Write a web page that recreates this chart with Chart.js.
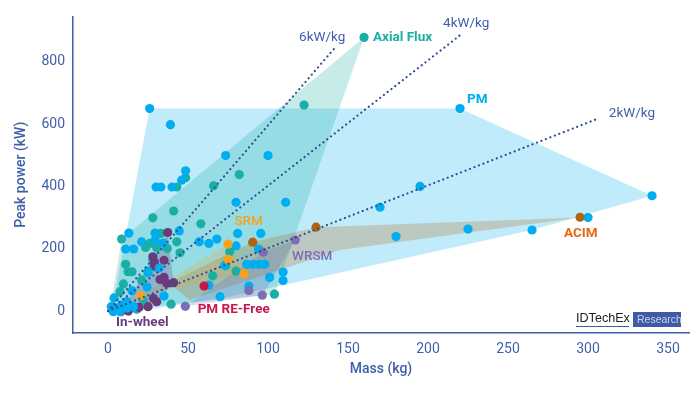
<!DOCTYPE html>
<html>
<head>
<meta charset="utf-8">
<style>
  html, body { margin: 0; padding: 0; background: #fff; }
  canvas { display: block; }
</style>
<script src="https://cdn.jsdelivr.net/npm/chart.js@4"></script>
</head>
<body>
<canvas id="chart" width="700" height="394"></canvas>
<script>
const xTicks = [0, 50, 100, 150, 200, 250, 300, 350];
const yTicks = [0, 200, 400, 600, 800];

const pmPoints = [[26,650],[39,598],[220,650],[340,370],[300,300],[265,260],[225,263],[180,239],[195,400],[170,333],
  [111,349],[100,499],[73.5,499],[48.5,450],[46,420],[40,398],[30,398],[33,398],[80,349],[81,249],[95.5,249],
  [44.5,257],[57,222],[63,217],[68,231],[80,209],[94,199],[86.7,150],[90.6,150],[94.4,150],[98,150],
  [101,108],[109.4,125],[109.4,98],[88,80],[70,46],[73,147],[63,83],[13,250],[11,199],[16,199],[21,222],[29.4,250],
  [29.4,228],[34.4,218],[25,123],[32,138],[24.4,77],[15,65],[3.75,42],[35,48],[2,14],[3.3,-2],[5.6,10],[8.5,19],
  [11.7,30],[7.5,-2],[12,10],[16,14],[25,128]];
const axialPoints = [[160,878],[122.5,661],[82,438],[66,402],[41,321],[58,280],[48.5,428],[43,398],[76,190],[73.5,145],
  [80,128],[65.4,113],[104,54],[28,299],[8.5,231],[33,249],[26,217],[23.5,204],[30.4,203],[37,201],[43,222],[45,187],
  [11,150],[15,126],[12.5,126],[28,163],[29.4,142],[9.6,87],[7.5,62],[21,99],[39.4,22],[22,35],[18,6]];
const inWheelPoints = [[37.3,252],[35,163],[29,145],[32.5,101],[35,108],[36.7,89],[41,91],[28.3,41],[30.4,30],[25,14],
  [19.4,12],[12.7,0],[8,-2],[29,157],[28,174]];
const srmPoints = [[20.4,49],[75,215],[75,166],[85,120]];
const acimPoints = [[295,301],[130,269],[90.4,221]];
const wrsmPoints = [[117,228],[97,189],[88,66],[96.4,51],[48.3,15]];
const reFreePoints = [[60,80]];

const pmHull = [[26,650],[220,650],[340,370],[265,260],[109.4,83],[70,40],[12,-5],[0,5],[2,14],[3.75,42]];
const axialHull = [[160,878],[104,54],[39,22],[18,6],[8,8],[3,58],[8.5,231]];
const acimHull = [[295,300],[130,269],[90,221],[38,90],[51,35],[145,196]];
const srmHull = [[20.4,49],[75,215],[85,120]];
const wrsmHull = [[117,228],[96.4,51],[48.3,15],[97,189]];
const inWheelHull = [[37.3,252],[41,91],[30.4,30],[12.7,0],[8,-2],[27,160]];

const rate6 = [[0,0],[142,846]];
const rate4 = [[0,0],[220,885]];
const rate2 = [[0,0],[307,619]];

const notes = [
  ["6kW/kg", 119.4, 876, "#3F5FA8", "400"],
  ["4kW/kg", 209.4, 923, "#3F5FA8", "400"],
  ["2kW/kg", 313, 635, "#3F5FA8", "400"],
  ["Axial Flux", 165.6, 878, "#1AAFA5", "700"],
  ["PM", 224.4, 679, "#00AEEF", "700"],
  ["SRM", 79, 288, "#F9A11B", "500"],
  ["ACIM", 285, 247, "#E8660F", "700"],
  ["WRSM", 115, 176, "#7C6DB5", "500"],
  ["PM RE-Free", 56, 6, "#C8174A", "700"],
  ["In-wheel", 5, -37.5, "#6B3A7D", "700"],
];

const toXY = (pairs) => pairs.map(([x, y]) => ({ x, y }));

const hull = (pairs, color) => ({
  data: toXY(pairs),
  showLine: true,
  fill: "shape",
  backgroundColor: color,
  borderWidth: 0,
  pointRadius: 0,
  order: 10,
});

const dots = (pairs, color, order) => ({
  data: toXY(pairs),
  backgroundColor: color,
  pointRadius: 4.6,
  borderWidth: 0,
  order: order,
});

const rate = (pairs) => ({
  data: toXY(pairs),
  showLine: true,
  borderColor: "#2E4C96",
  borderWidth: 2.2,
  borderDash: [0.1, 4.7],
  borderCapStyle: "round",
  pointRadius: 0,
  order: 0,
});

const chartText = {
  id: "chartText",
  afterDatasetsDraw(chart) {
    const { ctx, scales } = chart;
    ctx.save();
    ctx.textAlign = "left";
    ctx.textBaseline = "middle";
    notes.forEach(([text, x, y, color, weight]) => {
      ctx.font = `${weight} 13.5px Roboto, sans-serif`;
      ctx.fillStyle = color;
      ctx.fillText(text, scales.x.getPixelForValue(x), scales.y.getPixelForValue(y));
    });

    // logo bottom right
    ctx.font = "12.6px 'Liberation Sans', sans-serif";
    ctx.fillStyle = "#222";
    ctx.fillText("IDTechEx", 576, 319);
    ctx.fillStyle = "#3F5BA5";
    ctx.fillRect(576, 326, 53, 1);
    ctx.fillRect(633, 312, 48, 15);
    ctx.font = "10.5px 'Liberation Sans', sans-serif";
    ctx.fillStyle = "#C9D3E8";
    ctx.fillText("Research", 637, 320);
    ctx.restore();
  },
};

new Chart(document.getElementById("chart"), {
  type: "scatter",
  data: {
    datasets: [
      rate(rate6),
      rate(rate4),
      rate(rate2),
      dots(reFreePoints, "#C8174A", 1),
      dots(srmPoints, "#F9A11B", 2),
      dots(wrsmPoints, "#7C6DB5", 3),
      dots(acimPoints, "#AE6410", 4),
      dots(pmPoints, "#00AEEF", 5),
      dots(inWheelPoints, "#6B3A7D", 6),
      dots(axialPoints, "#1AAFA5", 7),
      hull(inWheelHull, "rgba(107,58,125,0.25)"),
      hull(wrsmHull, "rgba(124,109,181,0.25)"),
      hull(srmHull, "rgba(249,161,27,0.2)"),
      hull(acimHull, "rgba(174,100,16,0.25)"),
      hull(axialHull, "rgba(26,175,165,0.25)"),
      hull(pmHull, "rgba(0,174,239,0.25)"),
    ],
  },
  options: {
    responsive: false,
    animation: false,
    layout: { padding: { top: 16, right: 11, left: 0, bottom: 0 } },
    plugins: {
      legend: { display: false },
      tooltip: { enabled: false },
    },
    scales: {
      x: {
        type: "linear",
        min: -21.9,
        max: 363.1,
        grid: { display: false, drawTicks: false },
        border: { color: "#3F5FA8", width: 1.5 },
        afterBuildTicks: (scale) => { scale.ticks = xTicks.map((value) => ({ value })); },
        afterFit: (scale) => { scale.height = 61; },
        ticks: {
          padding: 8,
          color: "#3F5FA8",
          font: { family: "Roboto, sans-serif", size: 14 },
        },
        title: {
          display: true,
          text: "Mass (kg)",
          color: "#3F5FA8",
          padding: { top: 4, bottom: 16 },
          font: { family: "Roboto, sans-serif", size: 14, weight: 500 },
        },
      },
      y: {
        min: -70.5,
        max: 945.5,
        grid: { display: false, drawTicks: false },
        border: { color: "#3F5FA8", width: 1.5 },
        afterBuildTicks: (scale) => { scale.ticks = yTicks.map((value) => ({ value })); },
        afterFit: (scale) => { scale.width = 73; },
        ticks: {
          padding: 8,
          color: "#3F5FA8",
          font: { family: "Roboto, sans-serif", size: 14 },
        },
        title: {
          display: true,
          text: "Peak power (kW)",
          color: "#3F5FA8",
          padding: { top: 13, bottom: 0 },
          font: { family: "Roboto, sans-serif", size: 14, weight: 500 },
        },
      },
    },
  },
  plugins: [chartText],
});
</script>
</body>
</html>
